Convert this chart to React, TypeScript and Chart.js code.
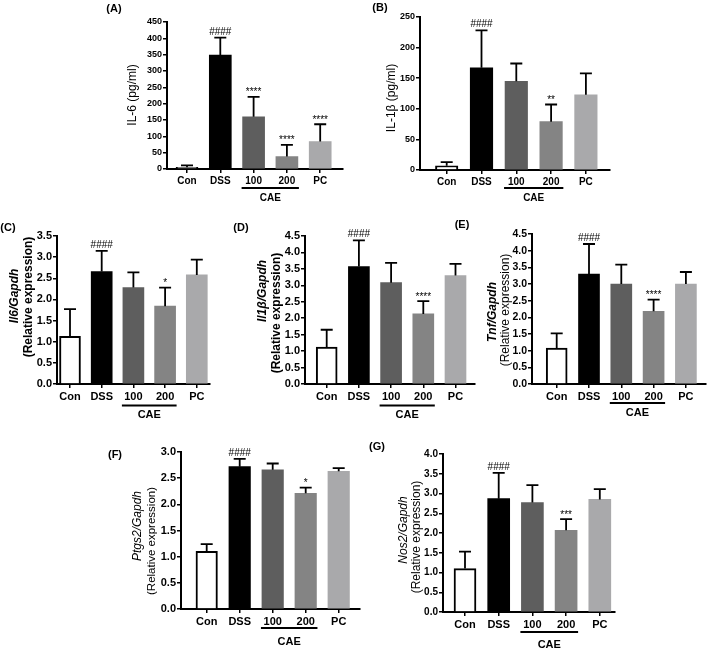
import React, { useEffect, useRef } from 'react';
import { Chart, registerables } from 'chart.js';

Chart.register(...registerables);

const FONT = '"Liberation Sans", Arial, Helvetica, sans-serif';

// Treatment groups (same for every panel)
const groups = ['Con', 'DSS', '100', '200', 'PC'];
const barFills = ['#ffffff', '#000000', '#5e5e5e', '#848484', '#a9a9ab'];
const barEdges = ['#000000', '#000000', '#5e5e5e', '#848484', '#a9a9ab'];
const barEdgeWidths = [2, 0, 0, 0, 0];

// (A) serum IL-6, pg/ml
const il6SerumMean = [5, 349, 160, 38, 84];
const il6SerumSd = [6, 53, 61, 36, 53];
const il6SerumMarks = ['', '####', '****', '****', '****'];

// (B) serum IL-1β, pg/ml
const il1bSerumMean = [7, 167, 145, 79, 123];
const il1bSerumSd = [6, 61, 29, 28, 35];
const il1bSerumMarks = ['', '####', '', '**', ''];

// (C) Il6 mRNA
const il6MrnaMean = [1.13, 2.66, 2.28, 1.84, 2.58];
const il6MrnaSd = [0.64, 0.49, 0.36, 0.44, 0.36];
const il6MrnaMarks = ['', '####', '', '*', ''];

// (D) Il1b mRNA
const il1bMrnaMean = [1.12, 3.57, 3.08, 2.13, 3.3];
const il1bMrnaSd = [0.53, 0.8, 0.6, 0.39, 0.35];
const il1bMrnaMarks = ['', '####', '', '****', ''];

// (E) Tnf mRNA
const tnfMrnaMean = [1.08, 3.3, 3.0, 2.18, 3.0];
const tnfMrnaSd = [0.44, 0.9, 0.58, 0.35, 0.36];
const tnfMrnaMarks = ['', '####', '', '****', ''];

// (F) Ptgs2 mRNA
const ptgs2MrnaMean = [1.1, 2.72, 2.66, 2.21, 2.63];
const ptgs2MrnaSd = [0.14, 0.15, 0.12, 0.11, 0.06];
const ptgs2MrnaMarks = ['', '####', '', '*', ''];

// (G) Nos2 mRNA
const nos2MrnaMean = [1.1, 2.87, 2.77, 2.07, 2.85];
const nos2MrnaSd = [0.43, 0.65, 0.44, 0.28, 0.26];
const nos2MrnaMarks = ['', '####', '', '***', ''];

type TitleLine = { text: string; font: string; x: number; y: number };

type Panel = {
  label: string;
  labelX: number;
  labelY: number;
  mean: number[];
  sd: number[];
  marks: string[];
  yMax: number;
  yStep: number;
  decimals: number;
  axisX: number;
  topY: number;
  bottomY: number;
  rightX: number;
  firstX: number;
  stepX: number;
  barW: number;
  tickSize: number;
  catSize: number;
  markSize: number;
  caeLineDy: number;
  caeTextDy: number;
  titles: TitleLine[];
};

const W = 708;
const H = 650;
const Y_AXIS_W = 30;
const X_AXIS_H = 20;

const panels: Panel[] = [
  {
    label: '(A)', labelX: 114, labelY: 9,
    mean: il6SerumMean, sd: il6SerumSd, marks: il6SerumMarks,
    yMax: 450, yStep: 50, decimals: 0,
    axisX: 167, topY: 22, bottomY: 169, rightX: 343,
    firstX: 187, stepX: 33.3, barW: 22,
    tickSize: 9, catSize: 10, markSize: 10,
    caeLineDy: 19, caeTextDy: 29,
    titles: [{ text: 'IL-6 (pg/ml)', font: `12px ${FONT}`, x: 133, y: 95 }],
  },
  {
    label: '(B)', labelX: 380, labelY: 8,
    mean: il1bSerumMean, sd: il1bSerumSd, marks: il1bSerumMarks,
    yMax: 250, yStep: 50, decimals: 0,
    axisX: 420, topY: 17, bottomY: 170, rightX: 610,
    firstX: 446.7, stepX: 34.8, barW: 22.5,
    tickSize: 9, catSize: 10, markSize: 10,
    caeLineDy: 18, caeTextDy: 28,
    titles: [{ text: 'IL-1β (pg/ml)', font: `12px ${FONT}`, x: 392, y: 98 }],
  },
  {
    label: '(C)', labelX: 8, labelY: 228,
    mean: il6MrnaMean, sd: il6MrnaSd, marks: il6MrnaMarks,
    yMax: 3.5, yStep: 0.5, decimals: 1,
    axisX: 57, topY: 236, bottomY: 384, rightX: 210,
    firstX: 70, stepX: 31.7, barW: 21,
    tickSize: 11, catSize: 11, markSize: 10,
    caeLineDy: 21.5, caeTextDy: 31,
    titles: [
      { text: 'Il6/Gapdh', font: `italic bold 12px ${FONT}`, x: 15, y: 296 },
      { text: '(Relative expression)', font: `bold 12px ${FONT}`, x: 29, y: 297 },
    ],
  },
  {
    label: '(D)', labelX: 241, labelY: 228,
    mean: il1bMrnaMean, sd: il1bMrnaSd, marks: il1bMrnaMarks,
    yMax: 4.5, yStep: 0.5, decimals: 1,
    axisX: 305, topY: 236, bottomY: 384, rightX: 475,
    firstX: 326.7, stepX: 32.2, barW: 21,
    tickSize: 11, catSize: 11, markSize: 10,
    caeLineDy: 21.5, caeTextDy: 31,
    titles: [
      { text: 'Il1β/Gapdh', font: `italic bold 12px ${FONT}`, x: 263, y: 291 },
      { text: '(Relative expression)', font: `bold 12px ${FONT}`, x: 277, y: 313 },
    ],
  },
  {
    label: '(E)', labelX: 462, labelY: 225,
    mean: tnfMrnaMean, sd: tnfMrnaSd, marks: tnfMrnaMarks,
    yMax: 4.5, yStep: 0.5, decimals: 1,
    axisX: 532, topY: 234, bottomY: 384, rightX: 706,
    firstX: 556.7, stepX: 32.3, barW: 21,
    tickSize: 10.5, catSize: 11, markSize: 10,
    caeLineDy: 19, caeTextDy: 29,
    titles: [
      { text: 'Tnf/Gapdh', font: `italic bold 12px ${FONT}`, x: 493, y: 312 },
      { text: '(Relative expression)', font: `12px ${FONT}`, x: 506, y: 310 },
    ],
  },
  {
    label: '(F)', labelX: 115, labelY: 455,
    mean: ptgs2MrnaMean, sd: ptgs2MrnaSd, marks: ptgs2MrnaMarks,
    yMax: 3.0, yStep: 0.5, decimals: 1,
    axisX: 181, topY: 452, bottomY: 609, rightX: 360,
    firstX: 206.7, stepX: 33, barW: 21.5,
    tickSize: 11, catSize: 11, markSize: 10,
    caeLineDy: 19, caeTextDy: 33,
    titles: [
      { text: 'Ptgs2/Gapdh', font: `italic 12px ${FONT}`, x: 138, y: 526 },
      { text: '(Relative expression)', font: `11.5px ${FONT}`, x: 152, y: 541 },
    ],
  },
  {
    label: '(G)', labelX: 377, labelY: 447,
    mean: nos2MrnaMean, sd: nos2MrnaSd, marks: nos2MrnaMarks,
    yMax: 4.0, yStep: 0.5, decimals: 1,
    axisX: 443, topY: 454, bottomY: 612, rightX: 615,
    firstX: 465, stepX: 33.7, barW: 22,
    tickSize: 10, catSize: 11, markSize: 10,
    caeLineDy: 20, caeTextDy: 33,
    titles: [
      { text: 'Nos2/Gapdh', font: `italic 12px ${FONT}`, x: 404, y: 530 },
      { text: '(Relative expression)', font: `12px ${FONT}`, x: 417, y: 537 },
    ],
  },
];

function barPositions(p: Panel): number[] {
  return groups.map((_, i) => (p.firstX - p.axisX) / p.stepX + i);
}

function makeOverlay(p: Panel, pos: number[]) {
  return {
    id: 'panelOverlay',
    afterDraw(chart: Chart) {
      const ctx = chart.ctx;
      const xs = chart.scales.x;
      const ys = chart.scales.y;
      ctx.save();

      // error bars (upper SD) and significance marks
      ctx.strokeStyle = '#000';
      ctx.fillStyle = '#000';
      ctx.lineWidth = 1.8;
      const cap = 6;
      p.mean.forEach((m, i) => {
        const cx = xs.getPixelForValue(pos[i]);
        const y0 = ys.getPixelForValue(m);
        const y1 = ys.getPixelForValue(m + p.sd[i]);
        ctx.beginPath();
        ctx.moveTo(cx, y0);
        ctx.lineTo(cx, y1);
        ctx.moveTo(cx - cap, y1);
        ctx.lineTo(cx + cap, y1);
        ctx.stroke();
        const mk = p.marks[i];
        if (mk) {
          ctx.font = `${p.markSize}px ${FONT}`;
          ctx.textAlign = 'center';
          ctx.textBaseline = 'alphabetic';
          const gap = mk.startsWith('#') ? 3 : 1.5;
          ctx.fillText(mk, cx, y1 - gap);
        }
      });

      // CAE group bracket under the 100 / 200 labels
      const axisY = ys.getPixelForValue(0);
      const xa = xs.getPixelForValue(pos[2]) - p.barW / 2 - 1;
      const xb = xs.getPixelForValue(pos[3]) + p.barW / 2 + 1;
      ctx.lineWidth = 2;
      ctx.beginPath();
      ctx.moveTo(xa, axisY + p.caeLineDy);
      ctx.lineTo(xb, axisY + p.caeLineDy);
      ctx.stroke();
      ctx.font = `bold ${p.catSize}px ${FONT}`;
      ctx.textAlign = 'center';
      ctx.textBaseline = 'middle';
      ctx.fillText('CAE', (xa + xb) / 2, axisY + p.caeTextDy);

      // panel letter
      ctx.font = `bold 11px ${FONT}`;
      ctx.fillText(p.label, p.labelX, p.labelY);

      // rotated y-axis titles
      p.titles.forEach((t) => {
        ctx.save();
        ctx.translate(t.x, t.y);
        ctx.rotate(-Math.PI / 2);
        ctx.font = t.font;
        ctx.textAlign = 'center';
        ctx.textBaseline = 'middle';
        ctx.fillText(t.text, 0, 0);
        ctx.restore();
      });

      ctx.restore();
    },
  };
}

function BarPanel({ p }: { p: Panel }) {
  const ref = useRef<HTMLCanvasElement | null>(null);

  useEffect(() => {
    const canvas = ref.current;
    if (!canvas) return;
    const pos = barPositions(p);
    const xMax = (p.rightX - p.axisX) / p.stepX;

    const chart = new Chart(canvas, {
      type: 'bar',
      data: {
        datasets: [
          {
            data: pos.map((x, i) => ({ x, y: p.mean[i] })),
            backgroundColor: barFills,
            borderColor: barEdges,
            borderWidth: barEdgeWidths,
            barThickness: p.barW,
          },
        ],
      },
      options: {
        animation: false,
        responsive: false,
        maintainAspectRatio: false,
        devicePixelRatio: 1,
        layout: {
          padding: {
            left: p.axisX - Y_AXIS_W,
            top: p.topY,
            right: W - p.rightX,
            bottom: H - p.bottomY - X_AXIS_H,
          },
        },
        plugins: {
          legend: { display: false },
          tooltip: { enabled: false },
        },
        scales: {
          x: {
            type: 'linear',
            min: 0,
            max: xMax,
            offset: false,
            grid: {
              display: true,
              offset: false,
              drawOnChartArea: false,
              drawTicks: true,
              tickLength: 4,
              color: '#000',
              lineWidth: 1.5,
            },
            border: { display: true, color: '#000', width: 2 },
            ticks: {
              autoSkip: false,
              maxRotation: 0,
              minRotation: 0,
              padding: 2,
              color: '#000',
              font: { family: FONT, size: p.catSize, weight: 'bold' },
              callback: (_v: any, i: number) => groups[i],
            },
            afterBuildTicks: (s: any) => {
              s.ticks = pos.map((v) => ({ value: v }));
            },
            afterFit: (s: any) => {
              s.height = X_AXIS_H;
            },
          },
          y: {
            type: 'linear',
            min: 0,
            max: p.yMax,
            grid: {
              display: true,
              drawOnChartArea: false,
              drawTicks: true,
              tickLength: 4,
              color: '#000',
              lineWidth: 1.5,
            },
            border: { display: true, color: '#000', width: 2 },
            ticks: {
              stepSize: p.yStep,
              padding: 1,
              color: '#000',
              font: { family: FONT, size: p.tickSize, weight: 'bold' },
              callback: (v: any) => Number(v).toFixed(p.decimals),
            },
            afterFit: (s: any) => {
              s.width = Y_AXIS_W;
            },
          },
        },
      } as any,
      plugins: [makeOverlay(p, pos)],
    });

    return () => chart.destroy();
  }, [p]);

  return (
    <canvas
      ref={ref}
      width={W}
      height={H}
      style={{ position: 'absolute', left: 0, top: 0, width: W, height: H }}
    />
  );
}

export default function App() {
  return (
    <div
      style={{
        position: 'absolute',
        left: 0,
        top: 0,
        width: W,
        height: H,
        background: '#ffffff',
        overflow: 'hidden',
      }}
    >
      {panels.map((p) => (
        <BarPanel key={p.label} p={p} />
      ))}
    </div>
  );
}
